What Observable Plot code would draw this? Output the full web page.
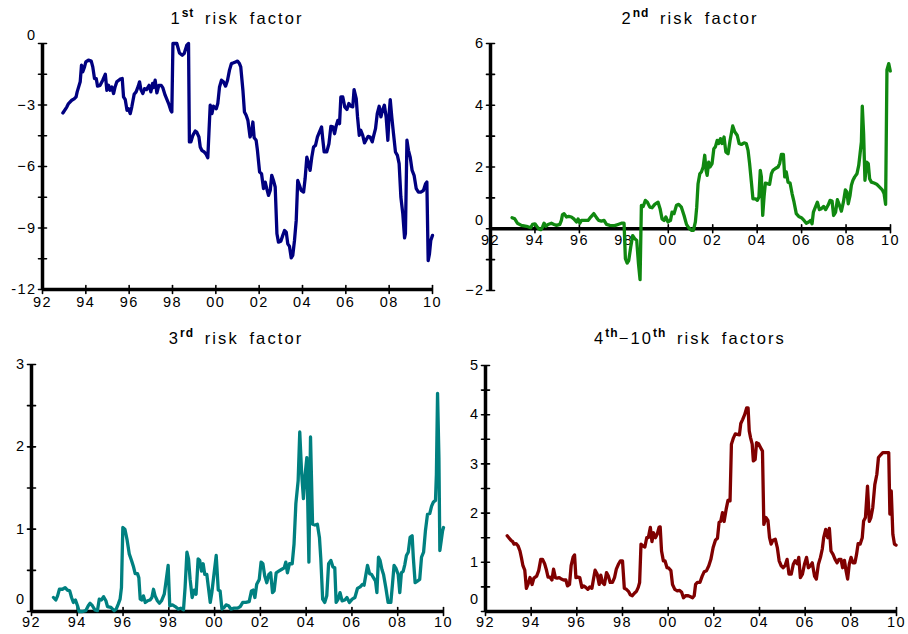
<!DOCTYPE html>
<html><head><meta charset="utf-8">
<script src="https://cdn.jsdelivr.net/npm/d3@7"></script>
<script src="https://cdn.jsdelivr.net/npm/@observablehq/plot@0.6"></script>
<style>
body{margin:0;background:#fff;}
#wrap{position:relative;width:908px;height:634px;overflow:hidden;font-family:"Liberation Sans",Arial,sans-serif;}
.panel{position:absolute;width:454px;height:317px;}
.title{position:absolute;font-size:16.5px;line-height:16px;letter-spacing:2.1px;word-spacing:4px;white-space:nowrap;transform:translateX(-50%);color:#000;}
.title sup{font-size:12px;font-weight:bold;line-height:0;vertical-align:baseline;position:relative;top:-7px;letter-spacing:1px;}
</style>
</head><body>
<div id="wrap"></div>
<script>
const xTicks = [1992,1994,1996,1998,2000,2002,2004,2006,2008,2010];
const xTickLabels = ["92","94","96","98","00","02","04","06","08","10"];

const y1Major = [0,-3,-6,-9,-12];
const y1Labels = ["0","−3","−6","−9","-12"];
const y1Minor = [-1.5,-4.5,-7.5,-10.5];
const y2Major = [-2,0,2,4,6];
const y2Labels = ["−2","0","2","4","6"];
const y2Minor = [-1,1,3,5];
const y3Major = [0,1,2,3];
const y3Labels = ["0","1","2","3"];
const y3Minor = [0.5,1.5,2.5];
const y4Major = [0,1,2,3,4,5];
const y4Labels = ["0","1","2","3","4","5"];
const y4Minor = [0.5,1.5,2.5,3.5,4.5];

const factor1 = [[1992.94,-3.39],[1993.12,-3.1],[1993.2,-2.93],[1993.35,-2.77],[1993.46,-2.7],[1993.55,-2.6],[1993.6,-2.36],[1993.74,-1.87],[1993.8,-1.06],[1993.86,-1.38],[1993.94,-1.14],[1994.0,-0.9],[1994.12,-0.81],[1994.25,-0.86],[1994.32,-1.14],[1994.4,-1.71],[1994.48,-1.71],[1994.54,-2.08],[1994.66,-2.04],[1994.78,-1.79],[1994.9,-1.5],[1994.97,-2.28],[1995.05,-2.04],[1995.12,-2.28],[1995.2,-2.12],[1995.28,-2.44],[1995.35,-2.12],[1995.43,-1.87],[1995.58,-1.74],[1995.68,-1.71],[1995.74,-2.6],[1995.82,-2.74],[1995.9,-3.26],[1995.97,-3.18],[1996.05,-3.42],[1996.12,-3.1],[1996.23,-2.48],[1996.32,-2.36],[1996.42,-2.08],[1996.48,-1.87],[1996.54,-2.25],[1996.63,-2.44],[1996.71,-2.2],[1996.8,-2.25],[1996.92,-2.04],[1997.0,-2.36],[1997.08,-1.95],[1997.12,-2.15],[1997.2,-1.79],[1997.28,-2.41],[1997.37,-2.04],[1997.48,-2.04],[1997.55,-2.15],[1997.66,-2.52],[1997.82,-2.93],[1997.92,-3.26],[1997.97,-3.34],[1998.02,0],[1998.12,0],[1998.2,0],[1998.32,-0.46],[1998.45,-0.57],[1998.54,-0.49],[1998.66,-0.08],[1998.74,0],[1998.78,-4.8],[1998.85,-4.8],[1998.94,-4.48],[1999.05,-4.27],[1999.12,-4.32],[1999.22,-4.56],[1999.28,-5.05],[1999.35,-5.21],[1999.46,-5.29],[1999.55,-5.4],[1999.63,-5.57],[1999.68,-4.4],[1999.74,-3.01],[1999.82,-3.42],[1999.89,-3.06],[2000.02,-3.18],[2000.09,-2.93],[2000.17,-2.12],[2000.26,-1.79],[2000.35,-1.87],[2000.45,-2.08],[2000.54,-1.79],[2000.63,-1.3],[2000.72,-0.98],[2000.82,-0.94],[2000.91,-0.9],[2001.0,-0.86],[2001.09,-0.98],[2001.15,-1.14],[2001.25,-2.28],[2001.32,-3.34],[2001.4,-3.5],[2001.48,-3.75],[2001.58,-4.56],[2001.65,-4.36],[2001.71,-3.83],[2001.77,-4.6],[2001.86,-4.72],[2001.92,-5.21],[2002.02,-6.27],[2002.11,-6.35],[2002.2,-7.08],[2002.28,-6.76],[2002.35,-7.08],[2002.43,-7.41],[2002.51,-7.17],[2002.58,-6.43],[2002.66,-6.68],[2002.74,-7.0],[2002.82,-9.28],[2002.89,-9.69],[2003.0,-9.64],[2003.09,-9.36],[2003.17,-9.12],[2003.25,-9.2],[2003.32,-9.77],[2003.4,-9.9],[2003.48,-10.46],[2003.55,-10.34],[2003.63,-9.61],[2003.71,-8.63],[2003.78,-6.68],[2003.86,-6.92],[2003.94,-7.17],[2004.05,-7.25],[2004.12,-6.6],[2004.2,-5.54],[2004.28,-5.86],[2004.35,-6.19],[2004.43,-5.54],[2004.51,-5.05],[2004.6,-4.97],[2004.69,-4.56],[2004.78,-4.32],[2004.88,-4.07],[2004.94,-4.72],[2005.0,-5.29],[2005.12,-5.29],[2005.22,-4.89],[2005.31,-4.04],[2005.4,-4.07],[2005.48,-4.4],[2005.55,-4.04],[2005.63,-3.75],[2005.71,-3.91],[2005.77,-2.61],[2005.86,-2.61],[2005.95,-3.09],[2006.05,-3.22],[2006.14,-2.93],[2006.23,-3.06],[2006.32,-3.09],[2006.38,-2.25],[2006.48,-2.69],[2006.54,-3.58],[2006.62,-4.48],[2006.69,-4.23],[2006.78,-4.48],[2006.86,-4.85],[2006.94,-4.69],[2007.03,-4.53],[2007.12,-4.56],[2007.22,-4.8],[2007.29,-4.48],[2007.37,-4.15],[2007.45,-3.42],[2007.54,-3.06],[2007.62,-3.58],[2007.69,-3.26],[2007.78,-3.01],[2007.86,-3.58],[2007.94,-4.72],[2008.0,-3.42],[2008.05,-2.74],[2008.12,-3.58],[2008.2,-4.4],[2008.29,-5.29],[2008.38,-5.46],[2008.46,-5.86],[2008.54,-7.49],[2008.63,-8.31],[2008.71,-9.48],[2008.75,-9.28],[2008.82,-4.72],[2008.89,-5.21],[2008.97,-5.54],[2009.06,-6.19],[2009.15,-6.43],[2009.25,-7.08],[2009.35,-7.25],[2009.46,-7.25],[2009.58,-7.17],[2009.68,-6.84],[2009.74,-6.76],[2009.8,-10.59],[2009.86,-10.26],[2009.92,-9.61],[2010.0,-9.36]];

const factor2 = [[1992.97,0.36],[1993.09,0.32],[1993.21,0.18],[1993.39,0.11],[1993.62,0.08],[1993.81,0.03],[1993.89,0.14],[1994.0,0.16],[1994.08,0.08],[1994.17,0],[1994.26,-0.03],[1994.34,0.05],[1994.41,0.18],[1994.49,0.08],[1994.59,0.14],[1994.74,0.18],[1994.86,0.14],[1994.97,0.11],[1995.12,0.14],[1995.19,0.27],[1995.24,0.46],[1995.31,0.49],[1995.42,0.38],[1995.52,0.4],[1995.64,0.38],[1995.75,0.32],[1995.87,0.22],[1995.94,0.32],[1996.02,0.18],[1996.09,0.27],[1996.24,0.27],[1996.39,0.27],[1996.51,0.38],[1996.65,0.49],[1996.77,0.36],[1996.87,0.27],[1996.99,0.25],[1997.11,0.27],[1997.22,0.14],[1997.37,0.11],[1997.59,0.1],[1997.74,0.14],[1997.89,0.18],[1998.01,0.18],[1998.07,-0.97],[1998.15,-1.11],[1998.22,-1.03],[1998.31,-0.59],[1998.4,-0.22],[1998.49,-0.32],[1998.58,-0.38],[1998.66,-1.14],[1998.73,-1.65],[1998.79,0.76],[1998.87,0.72],[1998.97,0.92],[1999.06,0.86],[1999.17,0.7],[1999.27,0.68],[1999.39,0.79],[1999.54,0.86],[1999.63,0.65],[1999.72,0.32],[1999.81,0.27],[1999.89,0.38],[1999.99,0.22],[2000.1,0.27],[2000.17,0.54],[2000.26,0.49],[2000.37,0.76],[2000.47,0.79],[2000.59,0.7],[2000.71,0.43],[2000.82,0.14],[2000.92,0.03],[2001.04,-0.05],[2001.13,-0.05],[2001.22,0.22],[2001.28,0.7],[2001.34,1.46],[2001.42,1.78],[2001.49,1.84],[2001.57,2.0],[2001.64,2.38],[2001.7,1.89],[2001.75,1.73],[2001.82,2.16],[2001.88,2.0],[2001.97,2.11],[2002.05,2.59],[2002.12,2.65],[2002.2,2.86],[2002.27,2.76],[2002.35,2.92],[2002.42,2.76],[2002.51,2.97],[2002.59,2.49],[2002.69,2.43],[2002.78,2.86],[2002.9,3.33],[2002.99,3.14],[2003.1,3.03],[2003.19,2.76],[2003.29,2.73],[2003.41,2.78],[2003.51,2.76],[2003.59,2.54],[2003.66,2.11],[2003.74,1.51],[2003.81,0.97],[2003.92,0.97],[2004.01,0.92],[2004.08,1.03],[2004.14,1.89],[2004.19,1.68],[2004.25,0.43],[2004.31,1.03],[2004.37,1.48],[2004.46,1.46],[2004.56,1.44],[2004.64,1.78],[2004.71,1.89],[2004.82,1.95],[2004.94,2.0],[2005.01,2.11],[2005.09,2.41],[2005.18,2.41],[2005.24,1.68],[2005.31,1.84],[2005.39,1.51],[2005.48,1.48],[2005.57,1.14],[2005.66,0.86],[2005.76,0.49],[2005.87,0.4],[2005.99,0.36],[2006.11,0.27],[2006.21,0.18],[2006.32,0.22],[2006.41,0.27],[2006.47,0.16],[2006.53,0.54],[2006.62,0.7],[2006.71,0.86],[2006.8,0.62],[2006.89,0.65],[2006.99,0.72],[2007.08,0.62],[2007.19,0.76],[2007.28,0.92],[2007.37,0.9],[2007.44,0.43],[2007.53,0.54],[2007.61,0.94],[2007.68,0.81],[2007.79,0.57],[2007.88,0.86],[2007.97,1.26],[2008.04,1.19],[2008.1,0.81],[2008.18,1.08],[2008.24,1.41],[2008.31,1.57],[2008.39,1.68],[2008.49,1.78],[2008.57,2.05],[2008.63,2.43],[2008.69,2.81],[2008.73,3.97],[2008.79,3.08],[2008.85,1.57],[2008.93,2.16],[2009.0,2.11],[2009.06,1.62],[2009.14,1.51],[2009.26,1.48],[2009.38,1.44],[2009.51,1.35],[2009.63,1.26],[2009.71,1.14],[2009.78,0.79],[2009.84,5.14],[2009.92,5.35],[2009.99,5.11]];

const factor3 = [[1992.96,0.17],[1993.06,0.14],[1993.14,0.19],[1993.22,0.27],[1993.35,0.27],[1993.47,0.29],[1993.57,0.26],[1993.67,0.25],[1993.75,0.17],[1993.83,0.11],[1993.92,0.14],[1994.01,0.07],[1994.08,0],[1994.23,0],[1994.37,0.01],[1994.48,0.07],[1994.56,0.1],[1994.66,0.07],[1994.77,0.02],[1994.88,0.01],[1994.96,0.15],[1995.06,0.14],[1995.15,0.18],[1995.25,0.13],[1995.32,0.06],[1995.47,0.05],[1995.61,0.01],[1995.7,0.03],[1995.79,0.09],[1995.87,0.15],[1995.93,0.29],[1995.99,1.02],[1996.08,1.0],[1996.17,0.88],[1996.27,0.7],[1996.37,0.62],[1996.46,0.54],[1996.53,0.46],[1996.63,0.46],[1996.69,0.41],[1996.75,0.15],[1996.82,0.14],[1996.89,0.19],[1996.97,0.11],[1997.07,0.13],[1997.18,0.14],[1997.26,0.17],[1997.33,0.27],[1997.4,0.19],[1997.5,0.13],[1997.59,0.1],[1997.68,0.13],[1997.8,0.21],[1997.88,0.37],[1997.97,0.56],[1998.04,0.07],[1998.16,0.08],[1998.28,0.06],[1998.41,0.03],[1998.52,0.04],[1998.64,0.02],[1998.71,0.29],[1998.79,0.72],[1998.86,0.64],[1998.93,0.39],[1999.02,0.17],[1999.11,0.26],[1999.19,0.21],[1999.28,0.64],[1999.35,0.62],[1999.43,0.49],[1999.5,0.58],[1999.57,0.45],[1999.66,0.45],[1999.73,0.29],[1999.81,0.11],[1999.88,0.23],[1999.98,0.47],[2000.07,0.68],[2000.16,0.26],[2000.24,0.25],[2000.32,0.03],[2000.42,0.05],[2000.5,0.08],[2000.61,0.07],[2000.71,0.03],[2000.85,0.04],[2001.0,0.04],[2001.12,0.06],[2001.23,0.11],[2001.36,0.11],[2001.51,0.12],[2001.61,0.25],[2001.68,0.26],[2001.76,0.17],[2001.84,0.33],[2001.95,0.39],[2002.03,0.6],[2002.11,0.58],[2002.19,0.43],[2002.28,0.35],[2002.37,0.45],[2002.45,0.47],[2002.53,0.23],[2002.6,0.25],[2002.69,0.47],[2002.8,0.49],[2002.92,0.51],[2003.04,0.53],[2003.11,0.6],[2003.18,0.47],[2003.27,0.58],[2003.39,0.58],[2003.47,0.82],[2003.55,1.31],[2003.65,1.59],[2003.72,2.18],[2003.8,1.69],[2003.88,1.37],[2003.95,1.65],[2004.03,1.87],[2004.12,0.6],[2004.19,2.12],[2004.28,1.06],[2004.38,1.05],[2004.49,1.06],[2004.58,0.9],[2004.64,0.64],[2004.72,0.15],[2004.81,0.11],[2004.9,0.19],[2004.98,0.58],[2005.08,0.62],[2005.17,0.54],[2005.25,0.53],[2005.31,0.11],[2005.4,0.15],[2005.48,0.23],[2005.57,0.13],[2005.69,0.14],[2005.78,0.17],[2005.89,0.11],[2006.01,0.15],[2006.13,0.17],[2006.24,0.28],[2006.36,0.3],[2006.46,0.33],[2006.53,0.32],[2006.61,0.45],[2006.68,0.56],[2006.77,0.46],[2006.86,0.45],[2006.94,0.41],[2007.03,0.37],[2007.09,0.23],[2007.16,0.66],[2007.23,0.62],[2007.31,0.51],[2007.38,0.45],[2007.48,0.29],[2007.58,0.11],[2007.7,0.11],[2007.77,0.33],[2007.84,0.56],[2007.93,0.52],[2008.02,0.45],[2008.09,0.23],[2008.16,0.47],[2008.24,0.49],[2008.31,0.57],[2008.38,0.68],[2008.46,0.72],[2008.54,0.9],[2008.63,0.92],[2008.68,0.66],[2008.76,0.35],[2008.86,0.37],[2008.96,0.39],[2009.04,0.66],[2009.13,0.72],[2009.21,0.98],[2009.3,1.18],[2009.4,1.19],[2009.48,1.28],[2009.56,1.33],[2009.65,1.35],[2009.69,1.67],[2009.74,2.65],[2009.8,1.87],[2009.84,0.74],[2009.9,0.86],[2009.96,0.98],[2010.0,1.02]];

const factor4 = [[1992.95,1.54],[1993.02,1.5],[1993.11,1.45],[1993.19,1.42],[1993.25,1.37],[1993.34,1.38],[1993.43,1.33],[1993.51,1.23],[1993.57,1.1],[1993.64,0.93],[1993.72,0.84],[1993.79,0.47],[1993.86,0.55],[1993.95,0.69],[1994.04,0.55],[1994.12,0.68],[1994.24,0.72],[1994.33,0.83],[1994.42,1.06],[1994.5,1.06],[1994.59,0.97],[1994.66,0.86],[1994.74,0.7],[1994.82,0.7],[1994.91,0.64],[1994.98,0.86],[1995.06,0.69],[1995.14,0.68],[1995.23,0.69],[1995.32,0.66],[1995.42,0.64],[1995.52,0.64],[1995.59,0.52],[1995.68,0.55],[1995.75,0.93],[1995.84,1.11],[1995.9,1.15],[1995.96,0.69],[1996.05,0.7],[1996.13,0.69],[1996.22,0.49],[1996.31,0.52],[1996.39,0.49],[1996.48,0.45],[1996.57,0.5],[1996.66,0.47],[1996.73,0.66],[1996.8,0.84],[1996.89,0.76],[1996.98,0.55],[1997.05,0.74],[1997.12,0.59],[1997.21,0.55],[1997.3,0.79],[1997.38,0.72],[1997.46,0.59],[1997.56,0.59],[1997.65,0.69],[1997.73,0.86],[1997.82,0.96],[1997.91,1.03],[1998.0,1.03],[1998.08,0.47],[1998.17,0.45],[1998.26,0.41],[1998.34,0.34],[1998.43,0.32],[1998.52,0.37],[1998.61,0.41],[1998.69,0.49],[1998.75,0.59],[1998.81,1.37],[1998.9,1.33],[1998.98,1.31],[1999.06,1.5],[1999.13,1.5],[1999.22,1.71],[1999.29,1.42],[1999.36,1.6],[1999.44,1.5],[1999.52,1.57],[1999.6,1.71],[1999.65,1.72],[1999.71,1.23],[1999.79,1.03],[1999.86,1.03],[1999.95,0.89],[2000.03,0.88],[2000.12,0.83],[2000.19,0.55],[2000.29,0.45],[2000.4,0.42],[2000.5,0.43],[2000.59,0.39],[2000.67,0.28],[2000.76,0.32],[2000.88,0.32],[2000.98,0.3],[2001.07,0.28],[2001.14,0.32],[2001.2,0.55],[2001.28,0.59],[2001.39,0.59],[2001.49,0.72],[2001.58,0.81],[2001.68,0.83],[2001.78,0.93],[2001.87,1.06],[2001.97,1.3],[2002.07,1.45],[2002.16,1.49],[2002.23,1.81],[2002.3,1.83],[2002.38,2.01],[2002.45,1.83],[2002.54,2.08],[2002.62,2.26],[2002.71,2.25],[2002.77,3.4],[2002.86,3.53],[2002.94,3.61],[2003.03,3.6],[2003.12,3.59],[2003.18,3.82],[2003.26,3.9],[2003.35,4.0],[2003.44,4.14],[2003.5,4.14],[2003.55,3.67],[2003.61,3.53],[2003.68,3.4],[2003.73,3.06],[2003.81,3.09],[2003.87,3.43],[2003.96,3.41],[2004.05,3.33],[2004.13,3.26],[2004.19,1.77],[2004.28,1.91],[2004.37,1.85],[2004.44,1.5],[2004.51,1.37],[2004.59,1.45],[2004.69,1.47],[2004.78,1.3],[2004.86,1.03],[2004.95,0.93],[2005.04,0.89],[2005.12,0.93],[2005.21,1.06],[2005.29,0.76],[2005.39,0.76],[2005.48,0.96],[2005.56,1.03],[2005.65,0.97],[2005.72,1.1],[2005.79,0.69],[2005.88,0.76],[2005.97,0.96],[2006.06,1.1],[2006.14,0.89],[2006.23,0.93],[2006.31,0.99],[2006.41,0.72],[2006.49,0.66],[2006.58,0.96],[2006.67,1.1],[2006.75,1.27],[2006.81,1.5],[2006.9,1.67],[2006.99,1.5],[2007.06,1.69],[2007.13,1.23],[2007.22,1.16],[2007.31,1.06],[2007.4,0.99],[2007.48,1.06],[2007.57,1.06],[2007.64,0.89],[2007.72,1.04],[2007.79,0.83],[2007.86,0.66],[2007.93,0.96],[2008.01,1.1],[2008.09,0.99],[2008.18,0.99],[2008.25,1.16],[2008.32,1.38],[2008.41,1.37],[2008.5,1.5],[2008.56,1.84],[2008.64,1.91],[2008.73,2.55],[2008.81,1.83],[2008.88,1.91],[2008.96,2.11],[2009.05,2.58],[2009.14,2.79],[2009.21,3.13],[2009.32,3.19],[2009.4,3.23],[2009.49,3.23],[2009.58,3.23],[2009.66,3.23],[2009.71,1.98],[2009.77,2.45],[2009.84,1.57],[2009.91,1.37],[2009.98,1.35]];

const FONT = '"Liberation Sans", Arial, sans-serif';
const tickShape = {draw(ctx, l) { ctx.moveTo(0, 0); ctx.lineTo(0, -l); }};

function makePanel(o) {
  const x0 = 1992;
  const base = o.xAxisAt;
  const majNonZero = o.yMajor.filter(d => d !== 0);
  const labelOf = d => o.yLabels[o.yMajor.indexOf(d)];
  return Plot.plot({
    width: 454, height: 317,
    marginLeft: o.ml, marginRight: o.mr, marginTop: o.mt, marginBottom: o.mb,
    style: {fontFamily: FONT, fontSize: "14.5px", letterSpacing: "1.4px", color: "#000", background: "transparent", overflow: "visible"},
    x: {domain: [1992, 2010], axis: null},
    y: {domain: o.yDomain, axis: null},
    marks: [
      Plot.ruleX([x0], {stroke: "#000", strokeWidth: 3.5}),
      Plot.ruleY([base], {stroke: "#000", strokeWidth: 3.5}),
      Plot.vector(o.yMajor.concat(o.yMinor), {x: () => x0, y: d => d, length: 8, rotate: 90, anchor: "middle", shape: tickShape, stroke: "#000", strokeWidth: 1.6}),
      Plot.text(majNonZero, {x: () => x0, y: d => d, text: labelOf, textAnchor: "end", dx: -6, fill: "#000"}),
      Plot.text([0], {x: () => x0, y: d => d, text: labelOf, textAnchor: "end", dx: -6, dy: o.zeroDy, fill: "#000"}),
      Plot.vector(xTicks, {x: d => d, y: () => base, length: 8, rotate: 0, anchor: "middle", shape: tickShape, stroke: "#000", strokeWidth: 1.6}),
      Plot.text(xTicks, {x: d => d, y: () => base, text: (d, i) => xTickLabels[i], dy: o.xLabelDy, fill: "#000"}),
      Plot.line(o.data, {x: d => d[0], y: d => d[1], stroke: o.color, strokeWidth: 3.3, strokeLinejoin: "round"})
    ]
  });
}

const panels = [
  {left: 0, top: 0, ml: 42, mr: 22, mt: 43, mb: 28, yDomain: [-12, 0], yMajor: y1Major, yLabels: y1Labels, yMinor: y1Minor, xAxisAt: -12, zeroDy: -8, xLabelDy: 13, data: factor1, color: "#000080",
   title: '1<sup>st</sup> risk factor', tx: 237, ty: 10},
  {left: 454, top: 0, ml: 36, mr: 18, mt: 43, mb: 27, yDomain: [-2, 6], yMajor: y2Major, yLabels: y2Labels, yMinor: y2Minor, xAxisAt: 0, zeroDy: -8, xLabelDy: 12, data: factor2, color: "#108810",
   title: '2<sup>nd</sup> risk factor', tx: 690, ty: 10},
  {left: 0, top: 317, ml: 31, mr: 11, mt: 47, mb: 23, yDomain: [0, 3], yMajor: y3Major, yLabels: y3Labels, yMinor: y3Minor, xAxisAt: 0, zeroDy: -12, xLabelDy: 11, data: factor3, color: "#008080",
   title: '3<sup>rd</sup> risk factor', tx: 236, ty: 330},
  {left: 454, top: 317, ml: 31, mr: 12, mt: 48, mb: 23, yDomain: [0, 5], yMajor: y4Major, yLabels: y4Labels, yMinor: y4Minor, xAxisAt: 0, zeroDy: -12, xLabelDy: 11, data: factor4, color: "#800000",
   title: '4<sup>th</sup>−10<sup>th</sup> risk factors', tx: 690, ty: 330}
];

const wrap = document.getElementById("wrap");
for (const p of panels) {
  const div = document.createElement("div");
  div.className = "panel";
  div.style.left = p.left + "px";
  div.style.top = p.top + "px";
  div.appendChild(makePanel(p));
  wrap.appendChild(div);
  const t = document.createElement("div");
  t.className = "title";
  t.style.left = p.tx + "px";
  t.style.top = p.ty + "px";
  t.innerHTML = p.title;
  wrap.appendChild(t);
}
</script>
</body></html>
